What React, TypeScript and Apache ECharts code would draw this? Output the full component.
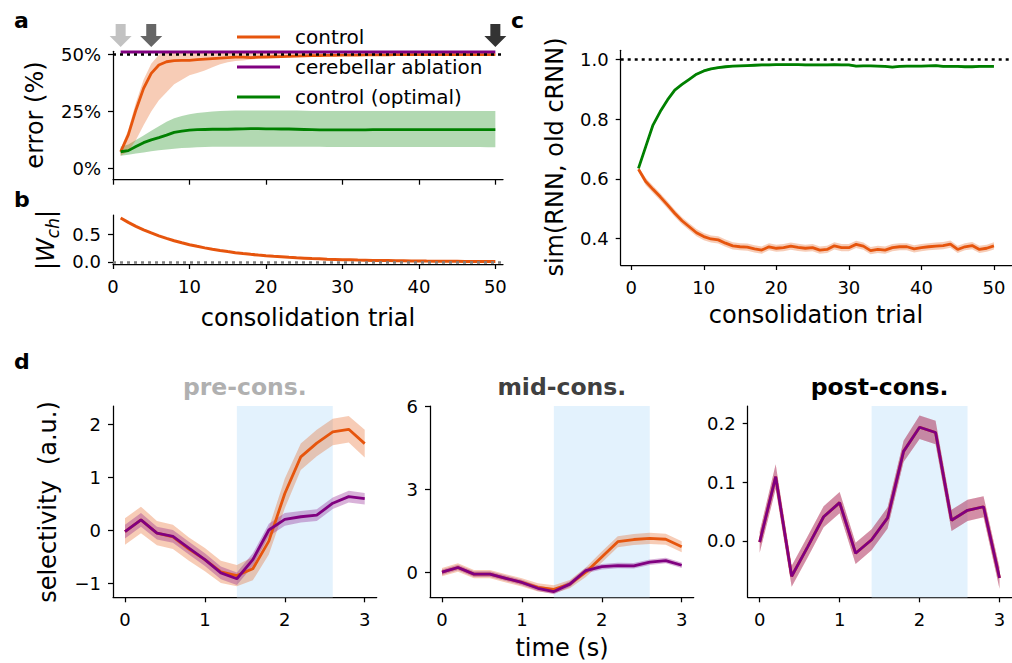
import React, { useEffect, useRef } from 'react';
import * as echarts from 'echarts';

// ---------- data ----------
const trials = [1,2,3,4,5,6,7,8,9,10,11,12,13,14,15,16,17,18,19,20,21,22,23,24,25,26,27,28,29,30,31,32,33,34,35,36,37,38,39,40,41,42,43,44,45,46,47,48,49,50];

// panel a: error (%)
const aControl = [7.3,14.7,25.7,35.2,41.8,45.5,46.9,47.4,47.5,47.5,47.8,48.1,48.3,48.5,48.7,48.9,48.9,48.7,48.9,49.0,49.1,49.2,49.3,49.4,49.5,49.6,49.6,49.7,49.7,49.8,49.8,49.8,49.9,49.9,49.9,49.9,50.0,50.0,50.0,50.0,50.0,50.0,50.0,50.0,50.0,50.0,50.0,50.0,50.0,50.0];
const aControlLo = [5.5,7.5,12.5,19,25,30,33.5,37,39,41,42,43,44.5,45.8,46.7,47.2,47.5,47.9,48.2,48.5,48.7,48.9,49.1,49.2,49.3,49.4,49.4,49.5,49.5,49.6,49.6,49.6,49.7,49.7,49.7,49.7,49.8,49.8,49.8,49.8,49.8,49.8,49.8,49.8,49.8,49.8,49.8,49.8,49.8,49.8];
const aControlHi = [8.5,17,29,39,46,50,51.5,51.5,51.5,51.5,51.5,51.5,51.5,51.5,51.5,51.5,51.5,51.5,51.5,51.5,51.3,51.1,51,50.9,50.8,50.7,50.6,50.5,50.5,50.4,50.4,50.3,50.3,50.3,50.2,50.2,50.2,50.2,50.2,50.2,50.2,50.2,50.2,50.2,50.2,50.2,50.2,50.2,50.2,50.2];
const aAblation = [51.2,51.2,51.2,51.2,51.2,51.2,51.2,51.2,51.2,51.2,51.2,51.2,51.2,51.2,51.2,51.2,51.2,51.2,51.2,51.2,51.2,51.2,51.2,51.2,51.2,51.2,51.2,51.2,51.2,51.2,51.2,51.2,51.2,51.2,51.2,51.2,51.2,51.2,51.2,51.2,51.2,51.2,51.2,51.2,51.2,51.2,51.2,51.2,51.2,51.2];
const aOptimal = [7.3,7.8,9.6,11.3,12.5,13.5,14.6,15.8,16.4,16.8,17.0,17.1,17.2,17.2,17.2,17.3,17.4,17.5,17.5,17.4,17.4,17.3,17.3,17.2,17.1,17.0,16.9,16.9,16.9,16.9,16.9,16.9,16.9,17.0,17.0,17.0,17.0,17.0,17.0,17.0,17.0,17.0,17.0,17.0,17.0,17.0,17.0,17.0,17.0,17.0];
const aOptimalLo = [5.5,6,6.5,7,7.5,8,8.3,8.6,8.9,9.1,9.3,9.4,9.5,9.5,9.5,9.5,9.5,9.5,9.5,9.5,9.5,9.5,9.5,9.5,9.5,9.5,9.5,9.4,9.4,9.4,9.4,9.4,9.4,9.4,9.4,9.4,9.4,9.4,9.4,9.4,9.4,9.4,9.4,9.4,9.4,9.4,9.4,9.4,9.3,9.3];
const aOptimalHi = [9.5,10.5,12.5,14.5,16.5,18.5,20.5,22,23,23.8,24.3,24.7,25,25.2,25.3,25.4,25.5,25.5,25.5,25.5,25.5,25.5,25.5,25.4,25.3,25.2,25.2,25.2,25.2,25.2,25.2,25.2,25.2,25.2,25.2,25.2,25.2,25.2,25.2,25.2,25.2,25.2,25.2,25.2,25.2,25.2,25.2,25.2,25.2,25.2];
const arrowTrials = [1, 5, 50];
const arrowLevel = [58.5, 58.5, 58.5];
const arrowColors = ['#b3b3b3', '#404040', '#000000'];

// panel b: |W_ch|
const bWch = [0.790,0.712,0.641,0.578,0.521,0.469,0.423,0.381,0.343,0.309,0.279,0.251,0.226,0.204,0.184,0.165,0.149,0.134,0.121,0.109,0.098,0.089,0.080,0.072,0.065,0.058,0.053,0.047,0.043,0.038,0.035,0.031,0.028,0.025,0.023,0.021,0.019,0.017,0.015,0.014,0.012,0.011,0.010,0.009,0.008,0.007,0.007,0.006,0.005,0.005];

// panel c: sim(RNN, old cRNN)
const cOptimal = [0.635,0.708,0.78,0.825,0.864,0.897,0.916,0.933,0.95,0.961,0.968,0.972,0.975,0.977,0.978,0.979,0.98,0.981,0.981,0.982,0.982,0.982,0.982,0.981,0.981,0.981,0.981,0.982,0.981,0.981,0.977,0.978,0.978,0.977,0.976,0.974,0.976,0.977,0.977,0.977,0.978,0.979,0.976,0.976,0.976,0.975,0.975,0.976,0.976,0.976];
const cOptimalSd = [0.004,0.004,0.004,0.004,0.004,0.004,0.004,0.004,0.004,0.004,0.004,0.004,0.004,0.004,0.004,0.004,0.004,0.004,0.004,0.004,0.004,0.004,0.004,0.004,0.004,0.004,0.004,0.004,0.004,0.004,0.004,0.004,0.004,0.004,0.004,0.004,0.004,0.004,0.004,0.004,0.004,0.004,0.004,0.004,0.004,0.004,0.004,0.004,0.004,0.004];
const cControl = [0.632,0.591,0.565,0.54,0.513,0.485,0.46,0.44,0.42,0.407,0.399,0.396,0.385,0.376,0.373,0.372,0.366,0.362,0.373,0.368,0.370,0.375,0.371,0.368,0.370,0.362,0.364,0.376,0.370,0.370,0.381,0.375,0.360,0.364,0.362,0.370,0.373,0.373,0.366,0.370,0.373,0.375,0.377,0.382,0.364,0.373,0.377,0.364,0.368,0.376];
const cControlSd = [0.008,0.012,0.012,0.012,0.012,0.012,0.012,0.012,0.012,0.012,0.012,0.012,0.012,0.012,0.012,0.012,0.012,0.012,0.012,0.012,0.012,0.012,0.012,0.012,0.012,0.012,0.012,0.012,0.012,0.012,0.012,0.012,0.012,0.012,0.012,0.012,0.012,0.012,0.012,0.012,0.012,0.012,0.012,0.012,0.012,0.012,0.012,0.012,0.012,0.012];

// panel d: selectivity
const times = [0,0.2,0.4,0.6,0.8,1.0,1.2,1.4,1.6,1.8,2.0,2.2,2.4,2.6,2.8,3.0];
const shadeSpan = [1.4, 2.6];
const preControl = [-0.02,0.20,-0.05,-0.12,-0.35,-0.55,-0.78,-0.85,-0.72,-0.20,0.70,1.39,1.65,1.86,1.91,1.64];
const preControlSd = [0.25,0.25,0.23,0.23,0.22,0.22,0.21,0.2,0.22,0.25,0.28,0.25,0.25,0.25,0.25,0.26];
const preAblation = [-0.02,0.20,-0.05,-0.11,-0.33,-0.55,-0.80,-0.91,-0.55,0.01,0.21,0.26,0.29,0.515,0.64,0.60];
const preAblationSd = [0.13,0.13,0.12,0.12,0.12,0.12,0.12,0.12,0.12,0.12,0.12,0.11,0.11,0.11,0.11,0.11];
const midControl = [0,0.17,-0.07,-0.07,-0.22,-0.37,-0.55,-0.62,-0.43,0.0,0.55,1.10,1.18,1.22,1.19,0.92];
const midControlSd = [0.15,0.15,0.15,0.15,0.15,0.15,0.15,0.15,0.15,0.17,0.2,0.2,0.2,0.2,0.2,0.2];
const midAblation = [0,0.17,-0.07,-0.07,-0.22,-0.37,-0.58,-0.70,-0.43,0.06,0.20,0.24,0.23,0.36,0.42,0.25];
const midAblationSd = [0.1,0.1,0.1,0.1,0.1,0.1,0.1,0.1,0.1,0.1,0.1,0.1,0.1,0.1,0.1,0.1];
const postControl = [-0.002,0.109,-0.060,-0.010,0.041,0.065,-0.021,0.002,0.039,0.152,0.193,0.184,0.035,0.052,0.058,-0.063];
const postAblation = [-0.002,0.109,-0.060,-0.010,0.041,0.065,-0.021,0.002,0.039,0.152,0.193,0.184,0.035,0.052,0.058,-0.063];
const postSd = [0.018,0.021,0.018,0.018,0.018,0.018,0.018,0.018,0.018,0.018,0.02,0.02,0.018,0.018,0.018,0.018];

// tick labels
const trialTicks = [0, 10, 20, 30, 40, 50];
const aTicks = [0, 25, 50];
const bTicks = [0, 0.5];
const cTicks = [0.4, 0.6, 0.8, 1.0];
const timeTicks = [0, 1, 2, 3];
const preTicks = [-1, 0, 1, 2];
const midTicks = [0, 3, 6];
const postTicks = [0, 0.1, 0.2];

// ---------- styles ----------
const FONT = 'DejaVu Sans';
const ORANGE = '#e6550d';
const PURPLE = '#800080';
const GREEN = '#008000';
const BLUE_SHADE = '#e3f2fd';
const LW = 2.8;

const minus = (s: string) => s.replace('-', '\u2212');

function axis(gridIndex: number, min: number, max: number, ticks: number[], showLabels: boolean, formatter: (v: number) => string, isY: boolean) {
  return {
    type: 'value', gridIndex, min, max,
    axisLine: { show: true, onZero: false, lineStyle: { color: '#000', width: 1.25 } },
    axisTick: { show: true, length: 5, inside: false, lineStyle: { color: '#000', width: 1.25 }, customValues: ticks },
    axisLabel: { show: showLabels, customValues: ticks, formatter, color: '#000', fontSize: 18, fontFamily: FONT, margin: isY ? 12 : 13 },
    splitLine: { show: false },
  };
}

function pairs(xs: number[], ys: number[]) { return xs.map((x, i) => [x, ys[i]]); }

function bandSeries(id: string, xi: number, xs: number[], lo: number[], hi: number[], color: string) {
  return {
    type: 'custom', name: id, xAxisIndex: xi, yAxisIndex: xi, silent: true, clip: true, z: 2,
    data: xs.map((x, i) => [x, lo[i], hi[i]]),
    encode: { x: 0, y: [1, 2] },
    renderItem: (params: any, api: any) => {
      if (params.dataIndex !== 0) return null;
      const top = xs.map((x, i) => api.coord([x, hi[i]]));
      const bottom = xs.map((x, i) => api.coord([x, lo[i]])).reverse();
      return { type: 'polygon', shape: { points: top.concat(bottom) }, style: { fill: color, opacity: 0.3 } };
    },
  };
}
function sdBand(id: string, xi: number, xs: number[], m: number[], sd: number[], color: string) {
  return bandSeries(id, xi, xs, m.map((v, i) => v - sd[i]), m.map((v, i) => v + sd[i]), color);
}
function lineSeries(name: string, xi: number, xs: number[], ys: number[], color: string, width = LW, extra?: any) {
  return { type: 'line', name, xAxisIndex: xi, yAxisIndex: xi, data: pairs(xs, ys), symbol: 'none', z: 3, lineStyle: { color, width }, itemStyle: { color }, ...(extra || {}) };
}
function shadeSeries(xi: number, xs: number[], ys: number[]) {
  return {
    type: 'line', name: 'shade', xAxisIndex: xi, yAxisIndex: xi, data: pairs(xs, ys), symbol: 'none', z: 1, silent: true,
    lineStyle: { opacity: 0 },
    markArea: { silent: true, itemStyle: { color: BLUE_SHADE }, data: [[{ xAxis: shadeSpan[0] }, { xAxis: shadeSpan[1] }]] },
  };
}

const dotted = (value: number, color: string) => ({
  silent: true, symbol: ['none', 'none'], label: { show: false },
  lineStyle: { type: [3, 4], width: 2.5, color }, data: [{ yAxis: value }],
});

function text(x: number, y: number, str: string, size: number, opts: any = {}) {
  return {
    type: 'text', x, y, rotation: opts.rotation || 0,
    style: { text: str, fontSize: size, fontFamily: FONT, fontWeight: opts.bold ? 'bold' : 'normal', fill: opts.color || '#000', align: opts.align || 'center', verticalAlign: 'middle', rich: opts.rich },
  };
}

export default function App() {
  const ref = useRef<HTMLDivElement>(null);
  useEffect(() => {
    if (!ref.current) return;
    const chart = echarts.init(ref.current, null, { renderer: 'svg' });
    const arrowPath = 'path://M6,0 L16,0 L16,12 L22,12 L11,23 L0,12 L6,12 Z';
    const option: any = {
      animation: false,
      textStyle: { fontFamily: FONT },
      grid: [
        { left: 113, top: 51.3, width: 390, height: 128.4 },
        { left: 113, top: 215, width: 390, height: 49 },
        { left: 620.7, top: 50.3, width: 391, height: 214.7 },
        { left: 113, top: 406, width: 263.7, height: 191.3 },
        { left: 430, top: 406, width: 263.7, height: 191.3 },
        { left: 747.7, top: 406, width: 263.8, height: 191.3 },
      ],
      xAxis: [
        axis(0, 0, 51, trialTicks, false, (v) => String(v), false),
        axis(1, 0, 51, trialTicks, true, (v) => String(v), false),
        axis(2, -1.45, 52.45, trialTicks, true, (v) => String(v), false),
        axis(3, -0.15, 3.15, timeTicks, true, (v) => String(v), false),
        axis(4, -0.15, 3.15, timeTicks, true, (v) => String(v), false),
        axis(5, -0.15, 3.15, timeTicks, true, (v) => String(v), false),
      ],
      yAxis: [
        axis(0, -5, 51.5, aTicks, true, (v) => v + '%', true),
        axis(1, -0.04, 0.845, bTicks, true, (v) => v.toFixed(1), true),
        axis(2, 0.312, 1.03, cTicks, true, (v) => v.toFixed(1), true),
        axis(3, -1.26, 2.35, preTicks, true, (v) => minus(String(v)), true),
        axis(4, -0.906, 6.0, midTicks, true, (v) => minus(String(v)), true),
        axis(5, -0.0957, 0.229, postTicks, true, (v) => minus(v.toFixed(1)), true),
      ],
      legend: {
        data: ['control', 'cerebellar ablation', 'control (optimal)'],
        orient: 'vertical', left: 237, top: 27, padding: 0, itemWidth: 43, itemHeight: 3, itemGap: 10,
        icon: 'rect', selectedMode: false,
        textStyle: { fontSize: 20, fontFamily: FONT, color: '#000', lineHeight: 20, padding: [0, 0, 0, 10] },
      },
      series: [
        // panel a
        lineSeries('control', 0, trials, aControl, ORANGE),
        bandSeries('a-opt', 0, trials, aOptimalLo, aOptimalHi, GREEN),
        bandSeries('a-ctl', 0, trials, aControlLo, aControlHi, ORANGE),
        lineSeries('control (optimal)', 0, trials, aOptimal, GREEN),
        lineSeries('cerebellar ablation', 0, trials, aAblation, PURPLE, 3, { markLine: dotted(50, '#000'), z: 4 }),
        {
          type: 'scatter', name: 'arrows', xAxisIndex: 0, yAxisIndex: 0, clip: false, silent: true,
          symbol: arrowPath, symbolSize: [22, 23],
          data: arrowTrials.map((t, i) => ({ value: [t, arrowLevel[i]], itemStyle: { color: arrowColors[i] } })),
        },
        // panel b
        lineSeries('wch', 1, trials, bWch, ORANGE, 3, { markLine: dotted(0, '#808080') }),
        // panel c
        sdBand('c-ctl', 2, trials, cControl, cControlSd, ORANGE),
        sdBand('c-opt', 2, trials, cOptimal, cOptimalSd, GREEN),
        lineSeries('control', 2, trials, cControl, ORANGE),
        lineSeries('control (optimal)', 2, trials, cOptimal, GREEN, LW, { markLine: dotted(1.0, '#000') }),
        // panel d pre
        shadeSeries(3, times, preControl),
        sdBand('d1-ctl', 3, times, preControl, preControlSd, ORANGE),
        sdBand('d1-abl', 3, times, preAblation, preAblationSd, PURPLE),
        lineSeries('control', 3, times, preControl, ORANGE),
        lineSeries('cerebellar ablation', 3, times, preAblation, PURPLE, LW, { z: 4 }),
        // panel d mid
        shadeSeries(4, times, midControl),
        sdBand('d2-ctl', 4, times, midControl, midControlSd, ORANGE),
        sdBand('d2-abl', 4, times, midAblation, midAblationSd, PURPLE),
        lineSeries('control', 4, times, midControl, ORANGE),
        lineSeries('cerebellar ablation', 4, times, midAblation, PURPLE, LW, { z: 4 }),
        // panel d post
        shadeSeries(5, times, postControl),
        sdBand('d3-ctl', 5, times, postControl, postSd, ORANGE),
        sdBand('d3-abl', 5, times, postAblation, postSd, PURPLE),
        lineSeries('control', 5, times, postControl, ORANGE),
        lineSeries('cerebellar ablation', 5, times, postAblation, PURPLE, LW, { z: 4 }),
      ],
      graphic: [
        text(14, 20, 'a', 22, { bold: true, align: 'left' }),
        text(14, 199, 'b', 22, { bold: true, align: 'left' }),
        text(511, 20, 'c', 22, { bold: true, align: 'left' }),
        text(14, 361, 'd', 22, { bold: true, align: 'left' }),
        text(244.8, 387, 'pre-cons.', 23.5, { bold: true, color: '#b0b0b0' }),
        text(561.8, 387, 'mid-cons.', 23.5, { bold: true, color: '#404040' }),
        text(879.6, 387, 'post-cons.', 23.5, { bold: true, color: '#000' }),
        text(308, 318, 'consolidation trial', 24),
        text(816, 315, 'consolidation trial', 24),
        text(562, 648, 'time (s)', 24),
        text(35, 115, 'error (%)', 24, { rotation: Math.PI / 2 }),
        text(555, 157, 'sim(RNN, old cRNN)', 24, { rotation: Math.PI / 2 }),
        text(48, 502, 'selectivity  (a.u.)', 24, { rotation: Math.PI / 2 }),
        text(46, 240, '|{w|W}{s|ch}|', 24, {
          rotation: Math.PI / 2,
          rich: {
            w: { fontSize: 24, fontStyle: 'italic', fontFamily: FONT, lineHeight: 30, verticalAlign: 'middle' },
            s: { fontSize: 17, fontStyle: 'italic', fontFamily: FONT, lineHeight: 30, verticalAlign: 'bottom' },
          },
        }),
      ],
    };
    chart.setOption(option);
    return () => chart.dispose();
  }, []);
  return <div ref={ref} style={{ position: 'absolute', left: 0, top: 0, width: 1012, height: 663 }} />;
}
